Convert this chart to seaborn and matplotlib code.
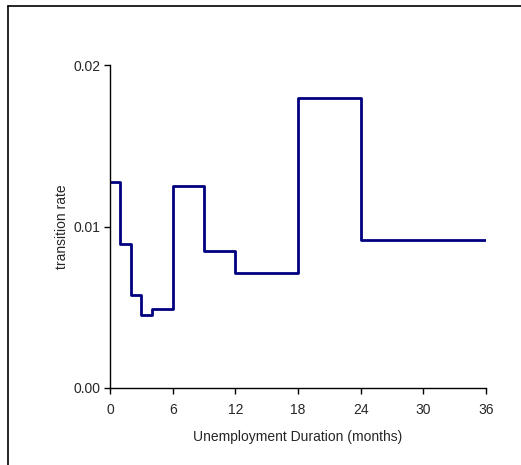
import pandas as pd
import seaborn as sns
import matplotlib.pyplot as plt
from matplotlib.lines import Line2D

# Interval start points (months) and the transition rate in each interval
months = [0, 1, 2, 3, 4, 6, 9, 12, 18, 24, 36]
rates = [0.01276, 0.00889, 0.00574, 0.00452, 0.00489, 0.01251,
         0.00846, 0.00712, 0.01795, 0.00916, 0.00916]
x_ticks = [0, 6, 12, 18, 24, 30, 36]
y_ticks = [0.00, 0.01, 0.02]

df = pd.DataFrame({'months': months, 'rate': rates})

sns.set_style('white')
plt.rcParams['font.family'] = ['Liberation Sans', 'DejaVu Sans']

fig = plt.figure(figsize=(5.21, 4.65), dpi=100)
ax = fig.add_axes([0.2111, 0.1656, 0.7217, 0.6946])

sns.lineplot(data=df, x='months', y='rate', drawstyle='steps-post',
             color='#000080', linewidth=2, ax=ax)

ax.set_xlim(0, 36)
ax.set_ylim(0, 0.02)
ax.set_xticks(x_ticks)
ax.set_yticks(y_ticks)
ax.set_yticklabels(['%.2f' % v for v in y_ticks])
ax.tick_params(axis='both', direction='out', length=4, width=1, color='black',
               labelsize=10, bottom=True, left=True)
ax.tick_params(axis='x', pad=7)
ax.tick_params(axis='y', pad=3)
ax.set_xlabel('Unemployment Duration (months)', fontsize=10, labelpad=9)
ax.set_ylabel('transition rate', fontsize=10, labelpad=3)

sns.despine(ax=ax)
for s in ('left', 'bottom'):
    ax.spines[s].set_color('black')
    ax.spines[s].set_linewidth(1)

# partial frame of the cropped chart area
fig.add_artist(Line2D([8 / 521, 8 / 521], [0, 1 - 6 / 465], color='black', lw=1.2,
                      transform=fig.transFigure))
fig.add_artist(Line2D([8 / 521, 1], [1 - 6 / 465, 1 - 6 / 465], color='black', lw=1.2,
                      transform=fig.transFigure))

fig.savefig('out.png')
